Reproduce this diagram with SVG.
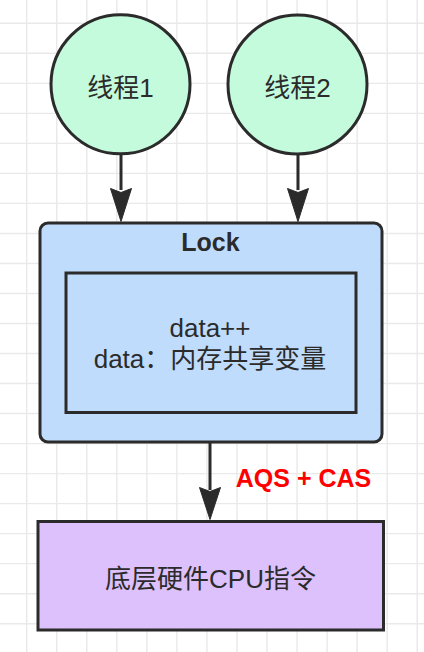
<svg xmlns="http://www.w3.org/2000/svg" width="424" height="652" viewBox="0 0 424 652">
<style>
.grid{fill:none;stroke:#e9e9e9;stroke-width:1.4}
.shape{stroke:#2b2b2b;stroke-width:3}
.t{font-family:"Liberation Sans","Noto Sans CJK SC",sans-serif;font-size:26px;fill:#2b2b2b;text-anchor:middle}
.b{font-weight:bold;font-size:25px}
.edge{stroke:#2b2b2b;stroke-width:3;fill:none}
.head{fill:#2b2b2b;stroke:#2b2b2b;stroke-width:1}
</style>
<rect width="424" height="652" fill="#ffffff"/>
<path class="grid" d="M26.7,0V652M56.74,0V652M86.78,0V652M116.82,0V652M146.86,0V652M176.9,0V652M206.94,0V652M236.98,0V652M267.02,0V652M297.06,0V652M327.1,0V652M357.14,0V652M387.18,0V652M417.22,0V652M0,23.3H424M0,53.32H424M0,83.34H424M0,113.36H424M0,143.38H424M0,173.4H424M0,203.42H424M0,233.44H424M0,263.46H424M0,293.48H424M0,323.5H424M0,353.52H424M0,383.54H424M0,413.56H424M0,443.58H424M0,473.6H424M0,503.62H424M0,533.64H424M0,563.66H424M0,593.68H424M0,623.7H424"/>
<g id="edges">
<path class="edge" d="M121,155V190"/>
<path class="head" d="M121,221.5L110.5,188.5L121,192.5L131.5,188.5Z"/>
<path class="edge" d="M298,155V190"/>
<path class="head" d="M298,221.5L287.5,188.5L298,192.5L308.5,188.5Z"/>
<path class="edge" d="M210,443V490"/>
<path class="head" d="M210,519.5L199.5,487.5L210,491.5L220.5,487.5Z"/>
<text class="t b" x="303.5" y="486.5" style="fill:#ff0000">AQS + CAS</text>
</g>
<g id="thread1">
<circle class="shape" cx="120.5" cy="84.3" r="69.5" fill="#c5fbdd"/>
<text class="t" x="120.5" y="96.5">线程1</text>
</g>
<g id="thread2">
<circle class="shape" cx="297.5" cy="84.5" r="69.5" fill="#c5fbdd"/>
<text class="t" x="297.5" y="96.5">线程2</text>
</g>
<g id="lock">
<rect class="shape" x="40" y="223" width="342" height="219" rx="8" fill="#c0dcfc"/>
<text class="t b" x="210.5" y="251">Lock</text>
</g>
<g id="data">
<rect class="shape" x="66" y="273" width="290" height="139.5" fill="#c0dcfc"/>
<text class="t" x="210" y="336.5">data++</text>
<text class="t" x="210" y="368">data：内存共享变量</text>
</g>
<g id="cpu">
<rect class="shape" x="38" y="521.5" width="345.5" height="108.5" fill="#dcc1fc"/>
<text class="t" x="210.5" y="587.5">底层硬件CPU指令</text>
</g>
</svg>
